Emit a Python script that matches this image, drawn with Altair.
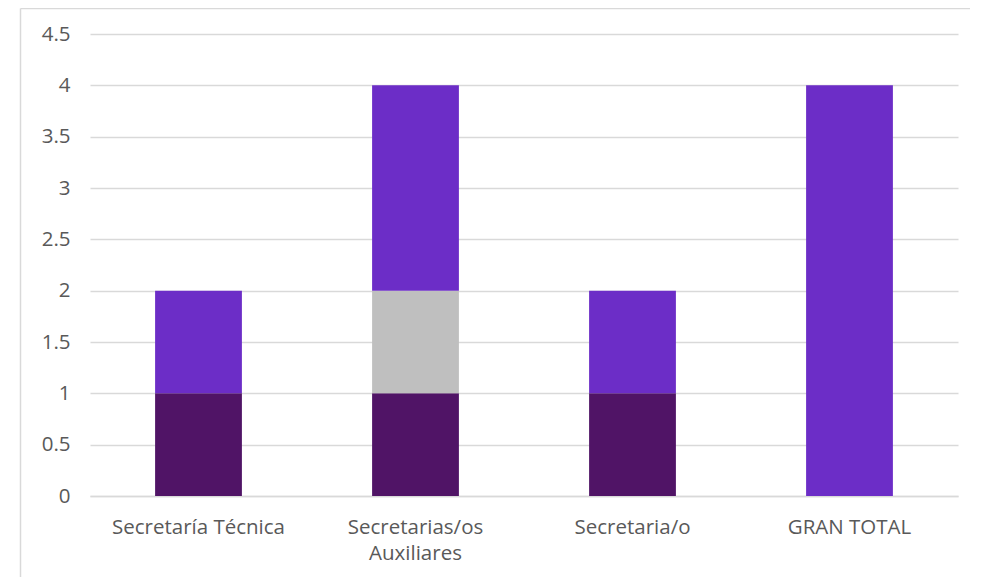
import altair as alt
import pandas as pd

categories = ["Secretaría Técnica", "Secretarias/os Auxiliares", "Secretaria/o", "GRAN TOTAL"]
series_names = ["Serie 1", "Serie 2", "Serie 3"]
serie1 = [1, 1, 1, 0]   # dark purple (bottom)
serie2 = [0, 1, 0, 0]   # gray (middle)
serie3 = [1, 2, 1, 4]   # purple (top)
colors = ["#501466", "#bfbfbf", "#6c2dc7"]

rows = []
for i, c in enumerate(categories):
    for k, (name, vals) in enumerate(zip(series_names, [serie1, serie2, serie3])):
        rows.append({"cat": c, "serie": name, "order": k, "value": vals[i]})
df = pd.DataFrame(rows)

FONT = "Open Sans"
FS = 20.5

bars = alt.Chart(df).mark_bar().encode(
    x=alt.X("cat:N", sort=categories, title=None,
            scale=alt.Scale(paddingInner=0.6, paddingOuter=0.3),
            axis=alt.Axis(labelAngle=0, labelFontSize=FS, labelColor="#595959", labelFont=FONT,
                          labelPadding=21, ticks=False, domain=True, domainColor="#d9d9d9",
                          domainWidth=1.3, grid=False,
                          labelLimit=300, labelLineHeight=26,
                          labelExpr="datum.value == 'Secretarias/os Auxiliares' ? ['Secretarias/os', 'Auxiliares'] : datum.value")),
    y=alt.Y("value:Q", stack="zero", title=None,
            scale=alt.Scale(domain=[0, 4.5], nice=False),
            axis=alt.Axis(values=[0, 0.5, 1, 1.5, 2, 2.5, 3, 3.5, 4, 4.5], format="~g",
                          labelFontSize=FS, labelColor="#595959", labelFont=FONT, labelPadding=20,
                          ticks=False, domain=False, gridColor="#d9d9d9", gridWidth=1.3)),
    color=alt.Color("serie:N", scale=alt.Scale(domain=series_names, range=colors), legend=None),
    order=alt.Order("order:Q"),
)

border_top = alt.Chart(pd.DataFrame({"a": [0]})).mark_rule(
    stroke="#d9d9d9", strokeWidth=1.5, clip=False
).encode(x=alt.value(-69.5), x2=alt.value(880), y=alt.value(-25.5))

border_left = alt.Chart(pd.DataFrame({"a": [0]})).mark_rule(
    stroke="#d9d9d9", strokeWidth=1.5, clip=False
).encode(x=alt.value(-69.5), y=alt.value(-25.5), y2=alt.value(560))

chart = alt.layer(bars, border_top, border_left).properties(
    width=868, height=462,
    background="white",
    autosize=alt.AutoSizeParams(type="none"),
    padding={"left": 82, "top": 26, "right": 20, "bottom": 81},
).configure_view(stroke="transparent", strokeWidth=0)

chart.save("out.html", embed_options={"renderer": "svg", "actions": False})
